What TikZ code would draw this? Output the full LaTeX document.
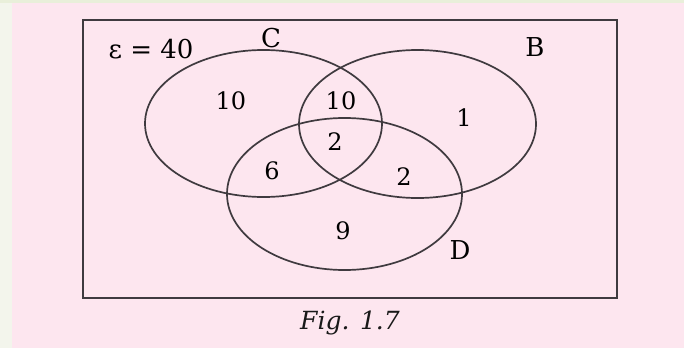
\documentclass[tikz,border=0pt]{standalone}
\usepackage{fontspec}
\setmainfont{DejaVu Serif}
\definecolor{bgpink}{HTML}{FDE6EF}
\definecolor{bgedge}{HTML}{F3F5EC}
\definecolor{bgtop}{HTML}{E9EFDA}
\definecolor{inkgray}{HTML}{3F3A3F}

\begin{document}
\begin{tikzpicture}[x=0.5pt, y=-0.5pt,
    setline/.style={draw=inkgray, line width=0.85pt},
    region/.style={font=\fontsize{12}{14}\selectfont, inner sep=0pt},
    setname/.style={font=\fontsize{13}{15}\selectfont, inner sep=0pt},
    caption/.style={font=\fontsize{12.5}{15}\selectfont\itshape,
        text=black!90, inner sep=0pt},
]

% === Page background ===
\fill[bgedge] (0,0) rectangle (684,348);
\fill[bgtop] (0,0) rectangle (684,3);
\fill[bgpink] (12,3) rectangle (684,348);
\useasboundingbox (0,0) rectangle (684,348);

% === Universal set ===
\draw[draw=inkgray, line width=1.1pt] (83,20) rectangle (617,298);
\node[setname] (univ) at (151,49) {ε = 40};

% === Sets C, B, D ===
\draw[setline] (263.5,123.5) ellipse [x radius=118.5, y radius=73.5];
\draw[setline] (417.5,124) ellipse [x radius=118.5, y radius=74];
\draw[setline] (344.5,194) ellipse [x radius=117.5, y radius=76];

\node[setname] (setC) at (271,38) {C};
\node[setname] (setB) at (535,47) {B};
\node[setname] (setD) at (460,250) {D};

% === Region counts ===
\node[region] (cOnly) at (231,101) {10};
\node[region] (cb)    at (341,101) {10};
\node[region] (cbd)   at (335,142) {2};
\node[region] (cd)    at (272,171) {6};
\node[region] (bd)    at (404,177) {2};
\node[region] (bOnly) at (464,118) {1};
\node[region] (dOnly) at (343,231) {9};

% Caption
\node[caption] (fig) at (350,323) {Fig. 1.7};

\end{tikzpicture}
\end{document}
